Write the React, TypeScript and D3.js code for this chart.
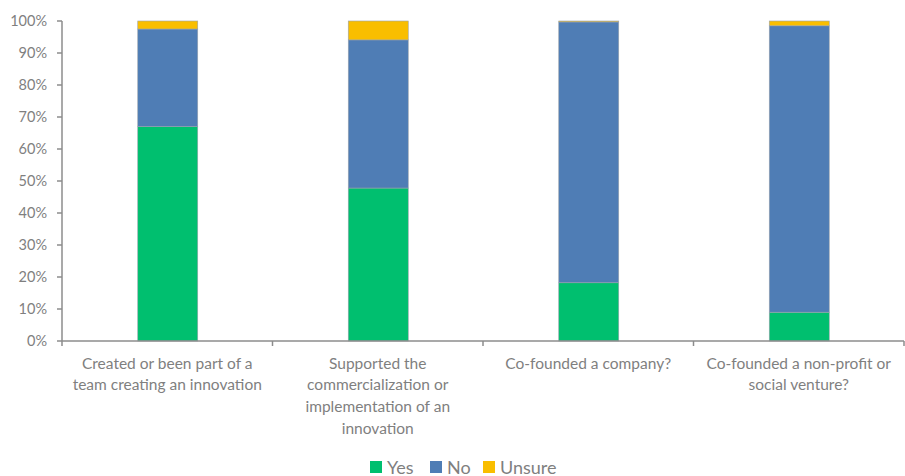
import React from "react";
import * as d3 from "d3";

const categories = [
  ["Created or been part of a", "team creating an innovation"],
  ["Supported the", "commercialization or", "implementation of an", "innovation"],
  ["Co-founded a company?"],
  ["Co-founded a non-profit or", "social venture?"],
];
const seriesNames = ["Yes", "No", "Unsure"];
const yesValues = [67, 47.8, 18.2, 9];
const noValues = [30.5, 46.3, 81.5, 89.5];
const unsureValues = [2.5, 5.9, 0.3, 1.5];
const yTicks = [0, 10, 20, 30, 40, 50, 60, 70, 80, 90, 100];
const colors = ["#00BF6F", "#4F7DB5", "#F9BE00"];

const W = 905;
const H = 476;
const left = 62;
const right = 904;
const top = 21;
const bottom = 341;
const font = "Lato, 'Open Sans', sans-serif";
const textColor = "#7f7f7f";
const axisColor = "#8c8c8c";

export default function App() {
  const idx = categories.map((_, i) => String(i));
  const x = d3.scaleBand<string>().domain(idx).range([left, right]).paddingInner(0).paddingOuter(0);
  const y = d3.scaleLinear().domain([0, 100]).range([bottom, top]);
  const rows = idx.map((k, i) => ({ k, Yes: yesValues[i], No: noValues[i], Unsure: unsureValues[i] }));
  const stack = d3.stack<any>().keys(seriesNames)(rows);
  const bw = 60;

  return (
    <svg width={W} height={H} style={{ position: "absolute", left: 0, top: 0 }}>
      <rect width={W} height={H} fill="#ffffff" />
      {stack.map((s, si) => (
        <g key={si}>
          {s.map((d, i) => {
            const cx = (x(idx[i]) as number) + x.bandwidth() / 2 + 0.5;
            return (
              <rect
                key={i}
                x={cx - bw / 2}
                y={y(d[1])}
                width={bw}
                height={Math.max(0, y(d[0]) - y(d[1]))}
                fill={colors[si]}
                stroke="#9aa3ad"
                strokeWidth={0.6}
              />
            );
          })}
        </g>
      ))}
      {/* y axis */}
      <line x1={left} x2={left} y1={top} y2={bottom} stroke={axisColor} strokeWidth={1.5} />
      {yTicks.map((t) => (
        <g key={t}>
          <line x1={left - 5} x2={left} y1={y(t)} y2={y(t)} stroke={axisColor} strokeWidth={1.5} />
          <text
            x={47}
            y={y(t)}
            dy="0.35em"
            textAnchor="end"
            fontFamily={font}
            fontSize={14.5}
            fill={textColor}
          >
            {t}%
          </text>
        </g>
      ))}
      {/* x axis */}
      <line x1={left} x2={right} y1={bottom} y2={bottom} stroke={axisColor} strokeWidth={1.5} />
      {[...idx.map((k) => x(k) as number), right].map((px, i) => (
        <line key={i} x1={px} x2={px} y1={bottom} y2={bottom + 5} stroke={axisColor} strokeWidth={1.5} />
      ))}
      {categories.map((lines, i) => {
        const cx = (x(idx[i]) as number) + x.bandwidth() / 2;
        return (
          <text key={i} textAnchor="middle" fontFamily={font} fontSize={15.5} fill={textColor}>
            {lines.map((ln, j) => (
              <tspan key={j} x={cx} y={368.5 + j * 21.7}>
                {ln}
              </tspan>
            ))}
          </text>
        );
      })}
      {/* legend */}
      {seriesNames.map((n, i) => {
        const xs = [370, 430, 483][i];
        return (
          <g key={n}>
            <rect x={xs} y={461} width={12} height={12} fill={colors[i]} />
            <text x={xs + 17} y={473.5} fontFamily={font} fontSize={18} fill={textColor}>
              {n}
            </text>
          </g>
        );
      })}
    </svg>
  );
}
